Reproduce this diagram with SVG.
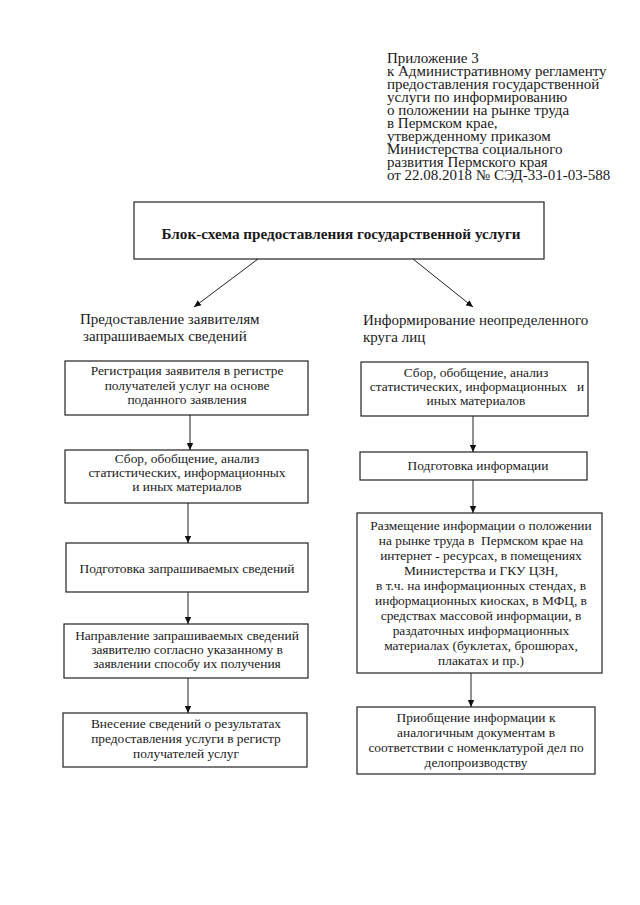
<svg xmlns="http://www.w3.org/2000/svg" width="640" height="905" viewBox="0 0 640 905" font-family="'Liberation Serif','Times New Roman',serif">
<defs>
<marker id="ah" markerWidth="8" markerHeight="8" refX="7" refY="4" orient="auto" markerUnits="userSpaceOnUse">
<path d="M0,0.8 L7,4 L0,7.2 Z" fill="#111"/>
</marker>
<style>
.t{font-family:"Liberation Serif","Times New Roman",serif;fill:#1a1a1a}
.hd{font-size:15px}
.h2{font-size:15px}
.bx{font-size:13.4px;text-anchor:middle}
.ti{font-size:15.2px;font-weight:bold;text-anchor:middle}
.box{fill:#fff;stroke:#222;stroke-width:1.2}
.ln{stroke:#222;stroke-width:1;fill:none;marker-end:url(#ah)}
</style>
</defs>
<rect width="640" height="905" fill="#fff"/>
<g id="header" class="t hd">
<text x="387" y="63">Приложение 3</text>
<text x="387" y="76">к Административному регламенту</text>
<text x="387" y="89">предоставления государственной</text>
<text x="387" y="102">услуги по информированию</text>
<text x="387" y="115">о положении на рынке труда</text>
<text x="387" y="128">в Пермском крае,</text>
<text x="387" y="141">утвержденному приказом</text>
<text x="387" y="154">Министерства социального</text>
<text x="387" y="167">развития Пермского края</text>
<text x="387" y="180">от 22.08.2018 № СЭД-33-01-03-588</text>
</g>
<g id="title">
<rect class="box" x="134" y="202" width="410" height="57"/>
<text class="t ti" x="341" y="239">Блок-схема предоставления государственной услуги</text>
</g>
<g id="branchLeft" class="t h2">
<text x="80" y="324">Предоставление заявителям</text>
<text x="83" y="341">запрашиваемых сведений</text>
</g>
<g id="branchRight" class="t h2">
<text x="363" y="325">Информирование неопределенного</text>
<text x="363" y="342">круга лиц</text>
</g>
<g id="L1">
<rect class="box" x="65" y="361" width="243" height="54"/>
<text class="t bx" x="187" y="375">Регистрация заявителя в регистре</text>
<text class="t bx" x="187" y="390">получателей услуг на основе</text>
<text class="t bx" x="187" y="404">поданного заявления</text>
</g>
<g id="L2">
<rect class="box" x="65" y="450" width="243" height="53"/>
<text class="t bx" x="187" y="463">Сбор, обобщение, анализ</text>
<text class="t bx" x="187" y="477">статистических, информационных</text>
<text class="t bx" x="187" y="491">и иных материалов</text>
</g>
<g id="L3">
<rect class="box" x="66" y="543" width="242" height="49"/>
<text class="t bx" x="187" y="573">Подготовка запрашиваемых сведений</text>
</g>
<g id="L4">
<rect class="box" x="64" y="624" width="244" height="54"/>
<text class="t bx" x="187" y="640">Направление запрашиваемых сведений</text>
<text class="t bx" x="187" y="654">заявителю согласно указанному в</text>
<text class="t bx" x="187" y="668">заявлении способу их получения</text>
</g>
<g id="L5">
<rect class="box" x="63" y="713" width="244" height="54"/>
<text class="t bx" x="186" y="728">Внесение сведений о результатах</text>
<text class="t bx" x="186" y="743">предоставления услуги в регистр</text>
<text class="t bx" x="186" y="758">получателей услуг</text>
</g>
<g id="R1">
<rect class="box" x="361" y="362" width="227" height="54"/>
<text class="t bx" x="476" y="377">Сбор, обобщение, анализ</text>
<text class="t bx" x="477" y="391" xml:space="preserve">статистических, информационных   и</text>
<text class="t bx" x="476" y="405">иных материалов</text>
</g>
<g id="R2">
<rect class="box" x="360" y="452" width="227" height="28"/>
<text class="t bx" x="478" y="470">Подготовка информации</text>
</g>
<g id="R3">
<rect class="box" x="357" y="513" width="245" height="160"/>
<text class="t bx" x="481" y="530">Размещение информации о положении</text>
<text class="t bx" x="481" y="545" xml:space="preserve">на рынке труда в  Пермском крае на</text>
<text class="t bx" x="481" y="560">интернет - ресурсах, в помещениях</text>
<text class="t bx" x="481" y="575">Министерства и ГКУ ЦЗН,</text>
<text class="t bx" x="481" y="590">в т.ч. на информационных стендах, в</text>
<text class="t bx" x="481" y="605">информационных киосках, в МФЦ, в</text>
<text class="t bx" x="481" y="620">средствах массовой информации, в</text>
<text class="t bx" x="481" y="635">раздаточных информационных</text>
<text class="t bx" x="481" y="650">материалах (буклетах, брошюрах,</text>
<text class="t bx" x="481" y="665">плакатах и пр.)</text>
</g>
<g id="R4">
<rect class="box" x="357" y="707" width="238" height="67"/>
<text class="t bx" x="476" y="722">Приобщение информации к</text>
<text class="t bx" x="476" y="737">аналогичным документам в</text>
<text class="t bx" x="476" y="752">соответствии с номенклатурой дел по</text>
<text class="t bx" x="476" y="767">делопроизводству</text>
</g>
<g id="connectors">
<line class="ln" x1="258" y1="259" x2="194" y2="307"/>
<line class="ln" x1="413" y1="259" x2="473" y2="307"/>
<line class="ln" x1="190" y1="415" x2="190" y2="450"/>
<line class="ln" x1="188" y1="503" x2="188" y2="543"/>
<line class="ln" x1="188" y1="592" x2="188" y2="624"/>
<line class="ln" x1="188" y1="678" x2="188" y2="713"/>
<line class="ln" x1="473" y1="416" x2="473" y2="452"/>
<line class="ln" x1="473" y1="480" x2="473" y2="513"/>
<line class="ln" x1="471" y1="673" x2="471" y2="707"/>
</g>
</svg>
